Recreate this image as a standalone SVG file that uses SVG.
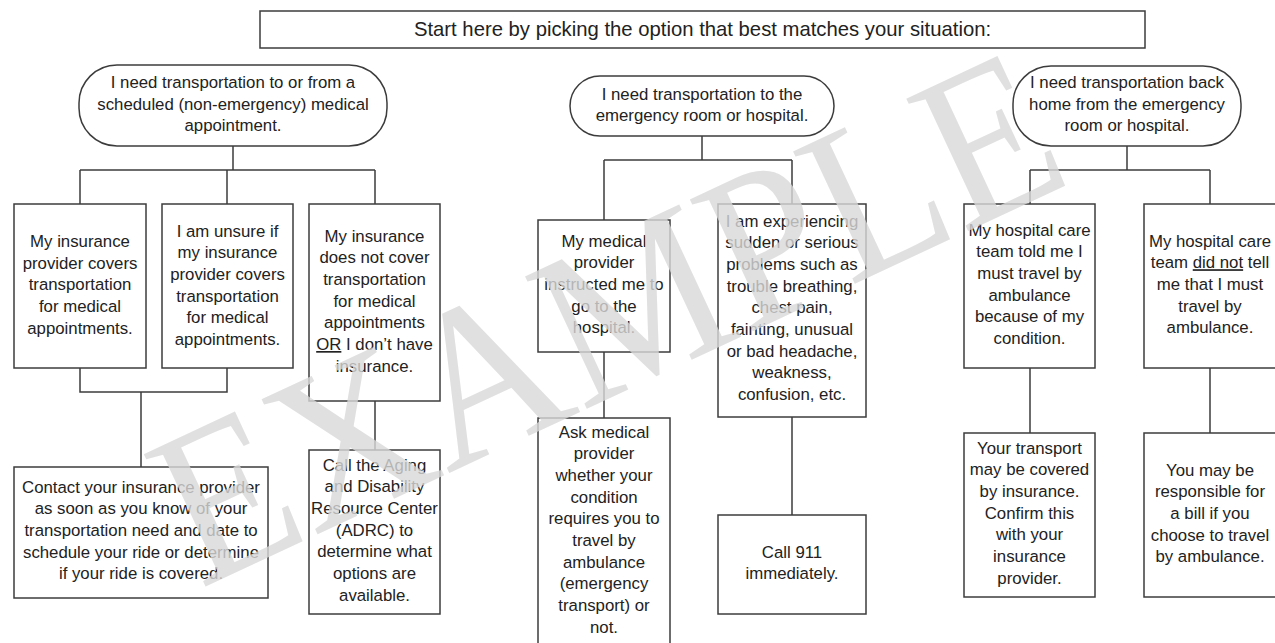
<svg xmlns="http://www.w3.org/2000/svg" width="1275" height="643" viewBox="0 0 1275 643">
<style>
.box{fill:#fff;stroke:#3c3c3c;stroke-width:1.5}
.con{fill:none;stroke:#3c3c3c;stroke-width:1.5}
.t{font-family:"Liberation Sans",Arial,sans-serif;font-size:16.8px;fill:#222;text-anchor:middle}
.title{font-family:"Liberation Sans",Arial,sans-serif;font-size:20.3px;fill:#222;text-anchor:middle}
.u{text-decoration:underline}
.wm{font-family:"Liberation Serif","Times New Roman",serif;font-size:230px;fill:#d9d9d9;opacity:0.8;text-anchor:middle}
</style>
<rect width="1275" height="643" fill="#fff"/>
<g id="connectors">
<path class="con" d="M233 146V170M80 170H375M80 170V204M227 170V204M375 170V204"/>
<path class="con" d="M80 368V392H227V368M141 392V467M375 401V450"/>
<path class="con" d="M702 136V160M604 160H792M604 160V220M792 160V204M604 352V418M792 417V515"/>
<path class="con" d="M1127 146V170M1030 170H1210M1030 170V204M1210 170V204M1030 368V433M1210 368V433"/>
</g>
<g id="title">
<rect class="box" x="260" y="11" width="885" height="37"/>
<text class="title" x="702.5" y="36">Start here by picking the option that best matches your situation:</text>
</g>
<g id="nodeA">
<rect class="box" x="79" y="65" width="308" height="81" rx="38" ry="38"/>
<text class="t" x="233" y="88">I need transportation to or from a<tspan x="233" dy="21.7">scheduled (non-emergency) medical</tspan><tspan x="233" dy="21.7">appointment.</tspan></text>
</g>
<g id="nodeA1">
<rect class="box" x="14" y="204" width="132" height="164"/>
<text class="t" x="80" y="247">My insurance<tspan x="80" dy="21.7">provider covers</tspan><tspan x="80" dy="21.7">transportation</tspan><tspan x="80" dy="21.7">for medical</tspan><tspan x="80" dy="21.7">appointments.</tspan></text>
</g>
<g id="nodeA2">
<rect class="box" x="162" y="204" width="131" height="164"/>
<text class="t" x="227.5" y="236.5">I am unsure if<tspan x="227.5" dy="21.7">my insurance</tspan><tspan x="227.5" dy="21.7">provider covers</tspan><tspan x="227.5" dy="21.7">transportation</tspan><tspan x="227.5" dy="21.7">for medical</tspan><tspan x="227.5" dy="21.7">appointments.</tspan></text>
</g>
<g id="nodeA3">
<rect class="box" x="309" y="204" width="131" height="197"/>
<text class="t" x="374.5" y="241.5">My insurance<tspan x="374.5" dy="21.7">does not cover</tspan><tspan x="374.5" dy="21.7">transportation</tspan><tspan x="374.5" dy="21.7">for medical</tspan><tspan x="374.5" dy="21.7">appointments</tspan><tspan x="374.5" dy="21.7"><tspan class="u">OR</tspan> I don’t have</tspan><tspan x="374.5" dy="21.7">insurance.</tspan></text>
</g>
<g id="nodeA4">
<rect class="box" x="14" y="467" width="254" height="131"/>
<text class="t" x="141" y="492.5">Contact your insurance provider<tspan x="141" dy="21.7">as soon as you know of your</tspan><tspan x="141" dy="21.7">transportation need and date to</tspan><tspan x="141" dy="21.7">schedule your ride or determine</tspan><tspan x="141" dy="21.7">if your ride is covered.</tspan></text>
</g>
<g id="nodeA5">
<rect class="box" x="309" y="450" width="131" height="164"/>
<text class="t" x="374.5" y="470.5">Call the Aging<tspan x="374.5" dy="21.7">and Disability</tspan><tspan x="374.5" dy="21.7">Resource Center</tspan><tspan x="374.5" dy="21.7">(ADRC) to</tspan><tspan x="374.5" dy="21.7">determine what</tspan><tspan x="374.5" dy="21.7">options are</tspan><tspan x="374.5" dy="21.7">available.</tspan></text>
</g>
<g id="nodeB">
<rect class="box" x="570" y="76" width="264" height="60" rx="30" ry="30"/>
<text class="t" x="702" y="99.5">I need transportation to the<tspan x="702" dy="21.7">emergency room or hospital.</tspan></text>
</g>
<g id="nodeB1">
<rect class="box" x="538" y="220" width="132" height="132"/>
<text class="t" x="604" y="246.5">My medical<tspan x="604" dy="21.7">provider</tspan><tspan x="604" dy="21.7">instructed me to</tspan><tspan x="604" dy="21.7">go to the</tspan><tspan x="604" dy="21.7">hospital.</tspan></text>
</g>
<g id="nodeB2">
<rect class="box" x="718" y="204" width="148" height="213"/>
<text class="t" x="792" y="226.5">I am experiencing<tspan x="792" dy="21.7">sudden or serious</tspan><tspan x="792" dy="21.7">problems such as</tspan><tspan x="792" dy="21.7">trouble breathing,</tspan><tspan x="792" dy="21.7">chest pain,</tspan><tspan x="792" dy="21.7">fainting, unusual</tspan><tspan x="792" dy="21.7">or bad headache,</tspan><tspan x="792" dy="21.7">weakness,</tspan><tspan x="792" dy="21.7">confusion, etc.</tspan></text>
</g>
<g id="nodeB3">
<rect class="box" x="538" y="418" width="132" height="240"/>
<text class="t" x="604" y="437.5">Ask medical<tspan x="604" dy="21.7">provider</tspan><tspan x="604" dy="21.7">whether your</tspan><tspan x="604" dy="21.7">condition</tspan><tspan x="604" dy="21.7">requires you to</tspan><tspan x="604" dy="21.7">travel by</tspan><tspan x="604" dy="21.7">ambulance</tspan><tspan x="604" dy="21.7">(emergency</tspan><tspan x="604" dy="21.7">transport) or</tspan><tspan x="604" dy="21.7">not.</tspan></text>
</g>
<g id="nodeB4">
<rect class="box" x="718" y="515" width="148" height="99"/>
<text class="t" x="792" y="557.5">Call 911<tspan x="792" dy="21.7">immediately.</tspan></text>
</g>
<g id="nodeC">
<rect class="box" x="1013" y="66" width="228" height="80" rx="38" ry="38"/>
<text class="t" x="1127" y="88">I need transportation back<tspan x="1127" dy="21.7">home from the emergency</tspan><tspan x="1127" dy="21.7">room or hospital.</tspan></text>
</g>
<g id="nodeC1">
<rect class="box" x="964" y="204" width="131" height="164"/>
<text class="t" x="1029.5" y="235.5">My hospital care<tspan x="1029.5" dy="21.7">team told me I</tspan><tspan x="1029.5" dy="21.7">must travel by</tspan><tspan x="1029.5" dy="21.7">ambulance</tspan><tspan x="1029.5" dy="21.7">because of my</tspan><tspan x="1029.5" dy="21.7">condition.</tspan></text>
</g>
<g id="nodeC2">
<rect class="box" x="1144" y="204" width="140" height="164"/>
<text class="t" x="1210" y="246.5">My hospital care<tspan x="1210" dy="21.7">team <tspan class="u">did not</tspan> tell</tspan><tspan x="1210" dy="21.7">me that I must</tspan><tspan x="1210" dy="21.7">travel by</tspan><tspan x="1210" dy="21.7">ambulance.</tspan></text>
</g>
<g id="nodeC3">
<rect class="box" x="964" y="433" width="131" height="164"/>
<text class="t" x="1029.5" y="453.5">Your transport<tspan x="1029.5" dy="21.7">may be covered</tspan><tspan x="1029.5" dy="21.7">by insurance.</tspan><tspan x="1029.5" dy="21.7">Confirm this</tspan><tspan x="1029.5" dy="21.7">with your</tspan><tspan x="1029.5" dy="21.7">insurance</tspan><tspan x="1029.5" dy="21.7">provider.</tspan></text>
</g>
<g id="nodeC4">
<rect class="box" x="1144" y="433" width="140" height="164"/>
<text class="t" x="1210" y="475.5">You may be<tspan x="1210" dy="21.7">responsible for</tspan><tspan x="1210" dy="21.7">a bill if you</tspan><tspan x="1210" dy="21.7">choose to travel</tspan><tspan x="1210" dy="21.7">by ambulance.</tspan></text>
</g>
<g id="watermark">
<text class="wm" transform="translate(607,318) rotate(-25) scale(0.89,0.97)" x="0" y="76">EXAMPLE</text>
</g>
</svg>
